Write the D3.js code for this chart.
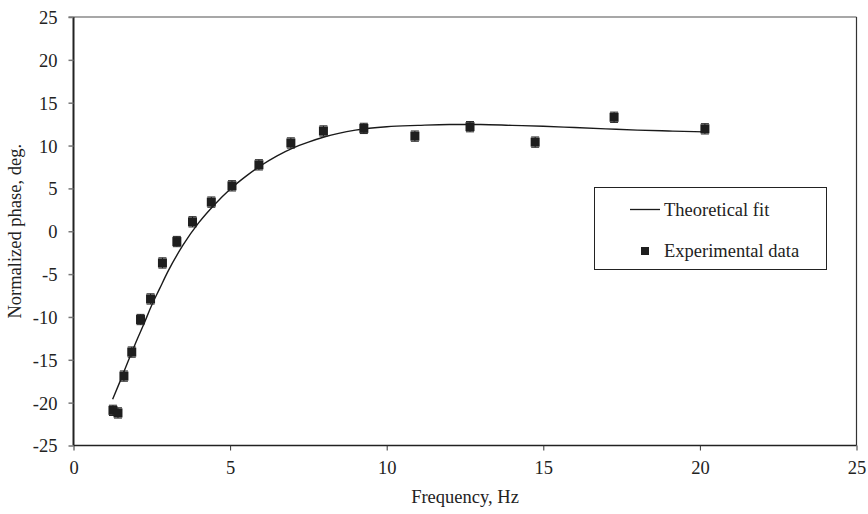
<!DOCTYPE html>
<html>
<head>
<meta charset="utf-8">
<script src="https://cdn.jsdelivr.net/npm/d3@7"></script>
<style>
  html, body { margin: 0; padding: 0; background: #fff; }
  svg { display: block; }
  text { font-family: "Liberation Serif", "Times New Roman", serif; fill: #222; }
</style>
</head>
<body>
<svg id="chart" width="868" height="514"></svg>
<script>
// ---- data ----
const expFreq  = [1.26, 1.42, 1.61, 1.86, 2.14, 2.46, 2.84, 3.30, 3.80, 4.40, 5.06, 5.92, 6.94, 7.98, 9.27, 10.90, 12.66, 14.74, 17.26, 20.16];
const expPhase = [-20.9, -21.2, -16.9, -14.1, -10.3, -7.9, -3.7, -1.2, 1.1, 3.4, 5.3, 7.75, 10.3, 11.7, 12.0, 11.1, 12.2, 10.4, 13.3, 11.95];
const expErr   = [0.6, 0.6, 0.6, 0.6, 0.6, 0.6, 0.6, 0.6, 0.6, 0.6, 0.6, 0.6, 0.6, 0.6, 0.6, 0.6, 0.6, 0.6, 0.6, 0.6];

const fitFreq  = [1.25, 1.5, 1.75, 2.0, 2.25, 2.5, 2.75, 3.0, 3.5, 4.0, 4.5, 5.0, 5.5, 6.0, 6.5, 7.0, 7.5, 8.0, 9.0, 10.0, 11.0, 12.0, 13.0, 14.0, 15.0, 16.0, 17.0, 18.0, 19.0, 20.16];
const fitPhase = [-19.6, -17.4, -15.1, -12.9, -10.8, -8.6, -6.7, -4.8, -1.6, 1.0, 3.1, 4.9, 6.4, 7.7, 8.8, 9.7, 10.4, 11.0, 11.8, 12.2, 12.35, 12.45, 12.45, 12.35, 12.25, 12.1, 11.95, 11.8, 11.7, 11.6];

const xTicks = [0, 5, 10, 15, 20, 25];
const yTicks = [-25, -20, -15, -10, -5, 0, 5, 10, 15, 20, 25];

const xLabel = "Frequency, Hz";
const yLabel = "Normalized phase, deg.";
const legendFit = "Theoretical fit";
const legendExp = "Experimental data";

// ---- layout ----
const svg = d3.select("#chart");
const L = 73.5, R = 856.5, T = 17, B = 445.5;
const FS = "18.5px";
const x = d3.scaleLinear().domain([0, 25]).range([L, R]);
const y = d3.scaleLinear().domain([-25, 25]).range([B, T]);
const fmt = d => String(d);

// frame: top gray, right dark
svg.append("line").attr("x1", L - 5).attr("x2", R).attr("y1", T).attr("y2", T)
  .attr("stroke", "#8a8a8a").attr("stroke-width", 1.5);
svg.append("line").attr("x1", R).attr("x2", R).attr("y1", T).attr("y2", B)
  .attr("stroke", "#333").attr("stroke-width", 1.2);

// axes
const xAxis = d3.axisBottom(x).tickValues(xTicks).tickSize(5).tickFormat(fmt);
const yAxis = d3.axisLeft(y).tickValues(yTicks).tickSize(5).tickFormat(fmt);

const gx = svg.append("g").attr("transform", `translate(0,${B})`).call(xAxis);
gx.select(".domain").attr("stroke", "#222").attr("stroke-width", 1.5).attr("d", `M${L},0H${R}`);
gx.selectAll(".tick line").attr("stroke", "#333");
gx.selectAll(".tick text").attr("dy", 0).attr("y", 28)
  .style("font-family", "'Liberation Serif', serif").style("font-size", FS).attr("fill", "#222");

const gy = svg.append("g").attr("transform", `translate(${L},0)`).call(yAxis);
gy.select(".domain").attr("stroke", "#222").attr("stroke-width", 2).attr("d", `M0,${B}V${T}`);
gy.selectAll(".tick line").attr("stroke", "#777").attr("stroke-width", 1.5);
gy.selectAll(".tick text").attr("x", -16).attr("dy", "0.35em")
  .style("font-family", "'Liberation Serif', serif").style("font-size", FS).attr("fill", "#222");

// axis titles
svg.append("text").attr("x", 465).attr("y", 503).attr("text-anchor", "middle")
  .style("font-size", FS).text(xLabel);
svg.append("text").attr("transform", `translate(21,${(T + B) / 2}) rotate(-90)`)
  .attr("text-anchor", "middle").style("font-size", FS).text(yLabel);

// theoretical fit
const line = d3.line().x((d, i) => x(fitFreq[i])).y((d, i) => y(fitPhase[i])).curve(d3.curveMonotoneX);
svg.append("path").datum(fitPhase).attr("d", line)
  .attr("fill", "none").attr("stroke", "#1a1a1a").attr("stroke-width", 1.4);

// experimental data
const pts = svg.append("g");
const cap = 4, sq = 9;
expFreq.forEach((f, i) => {
  const cx = x(f), cy = y(expPhase[i]);
  const y1 = y(expPhase[i] + expErr[i]), y2 = y(expPhase[i] - expErr[i]);
  pts.append("line").attr("x1", cx).attr("x2", cx).attr("y1", y1).attr("y2", y2).attr("stroke", "#222").attr("stroke-width", 1);
  pts.append("line").attr("x1", cx - cap).attr("x2", cx + cap).attr("y1", y1).attr("y2", y1).attr("stroke", "#222").attr("stroke-width", 1);
  pts.append("line").attr("x1", cx - cap).attr("x2", cx + cap).attr("y1", y2).attr("y2", y2).attr("stroke", "#222").attr("stroke-width", 1);
  pts.append("rect").attr("x", cx - sq / 2).attr("y", cy - sq / 2).attr("width", sq).attr("height", sq)
    .attr("fill", "#1e1e1e");
});

// legend
const lg = svg.append("g");
lg.append("rect").attr("x", 594.5).attr("y", 187.5).attr("width", 232).attr("height", 82)
  .attr("fill", "#fff").attr("stroke", "#222").attr("stroke-width", 1);
lg.append("line").attr("x1", 630).attr("x2", 660).attr("y1", 209.5).attr("y2", 209.5)
  .attr("stroke", "#1a1a1a").attr("stroke-width", 1.3);
lg.append("text").attr("x", 664).attr("y", 209.5).attr("dy", "0.35em").style("font-size", FS).text(legendFit);
lg.append("rect").attr("x", 641).attr("y", 247).attr("width", 8).attr("height", 8).attr("fill", "#1e1e1e");
lg.append("text").attr("x", 664).attr("y", 251).attr("dy", "0.35em").style("font-size", FS).text(legendExp);
</script>
</body>
</html>
